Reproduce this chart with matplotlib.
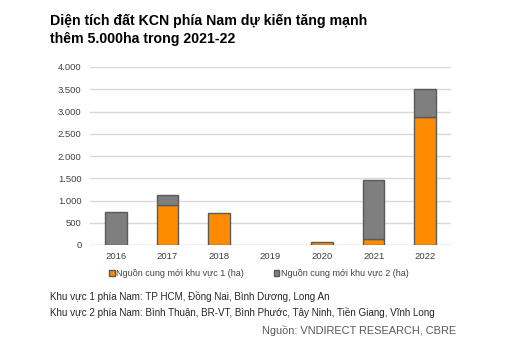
import numpy as np
import matplotlib.pyplot as plt
from matplotlib.patches import Patch

plt.rcParams['font.family'] = ['Liberation Sans', 'DejaVu Sans']

years = ['2016', '2017', '2018', '2019', '2020', '2021', '2022']
vung1 = [0, 900, 710, 0, 60, 130, 2880]     # khu vực 1 (ha)
vung2 = [750, 220, 0, 0, 0, 1330, 620]      # khu vực 2 (ha)
yticks = [0, 500, 1000, 1500, 2000, 2500, 3000, 3500, 4000]
ytick_labels = ['0', '500', '1.000', '1.500', '2.000', '2.500', '3.000', '3.500', '4.000']

orange = '#ff8c00'
grey = '#7f7f7f'
edge = '#5a5a5a'

fig = plt.figure(figsize=(5.07, 3.44), dpi=100)
ax = fig.add_axes([90 / 507, 1 - 245 / 344, 361 / 507, 178 / 344])

x = np.arange(len(years))
v1 = np.array(vung1, dtype=float)
v2 = np.array(vung2, dtype=float)
# skip empty segments so no stray outline is drawn at zero
m1 = v1 > 0
m2 = v2 > 0
ax.bar(x[m1], v1[m1], width=0.42, color=orange, edgecolor=edge, linewidth=1, zorder=3)
ax.bar(x[m2], v2[m2], bottom=v1[m2], width=0.42, color=grey, edgecolor=edge, linewidth=1, zorder=3)

ax.set_xlim(-0.5, len(years) - 0.5)
ax.set_ylim(0, 4000)
ax.set_xticks(x)
ax.set_xticklabels(years)
ax.set_yticks(yticks)
ax.set_yticklabels(ytick_labels)
ax.tick_params(length=0, labelsize=6.8, colors='#404040')
ax.tick_params(axis='x', pad=5)
ax.tick_params(axis='y', pad=6)
ax.yaxis.grid(True, color='#d9d9d9', linewidth=1, zorder=0)
for s in ax.spines.values():
    s.set_visible(False)
ax.axhline(0, color='#d9d9d9', linewidth=1, zorder=2)

fig.text(50 / 507, 1 - 14 / 344,
         'Diện tích đất KCN phía Nam dự kiến tăng mạnh\nthêm 5.000ha trong 2021-22',
         fontsize=10.2, fontweight='bold', va='top', ha='left', linespacing=1.35)

handles = [Patch(facecolor=orange, edgecolor=edge), Patch(facecolor=grey, edgecolor=edge)]
fig.legend(handles, ['Nguồn cung mới khu vực 1 (ha)', 'Nguồn cung mới khu vực 2 (ha)'],
           loc='center', bbox_to_anchor=(259 / 507, 1 - 274 / 344), ncol=2, frameon=False,
           fontsize=6.5, handlelength=0.6, handleheight=0.6, handletextpad=0.2,
           columnspacing=3.3, labelcolor='#404040')

fig.text(50 / 507, 1 - 296 / 344, 'Khu vực 1 phía Nam: TP HCM, Đồng Nai, Bình Dương, Long An',
         fontsize=7.15, va='center', color='#262626')
fig.text(50 / 507, 1 - 313 / 344,
         'Khu vực 2 phía Nam: Bình Thuận, BR-VT, Bình Phước, Tây Ninh, Tiền Giang, Vĩnh Long',
         fontsize=7.15, va='center', color='#262626')
fig.text(262 / 507, 1 - 331 / 344, 'Nguồn: VNDIRECT RESEARCH, CBRE',
         fontsize=7.9, va='center', color='#595959')

fig.savefig('out.png', dpi=100)
